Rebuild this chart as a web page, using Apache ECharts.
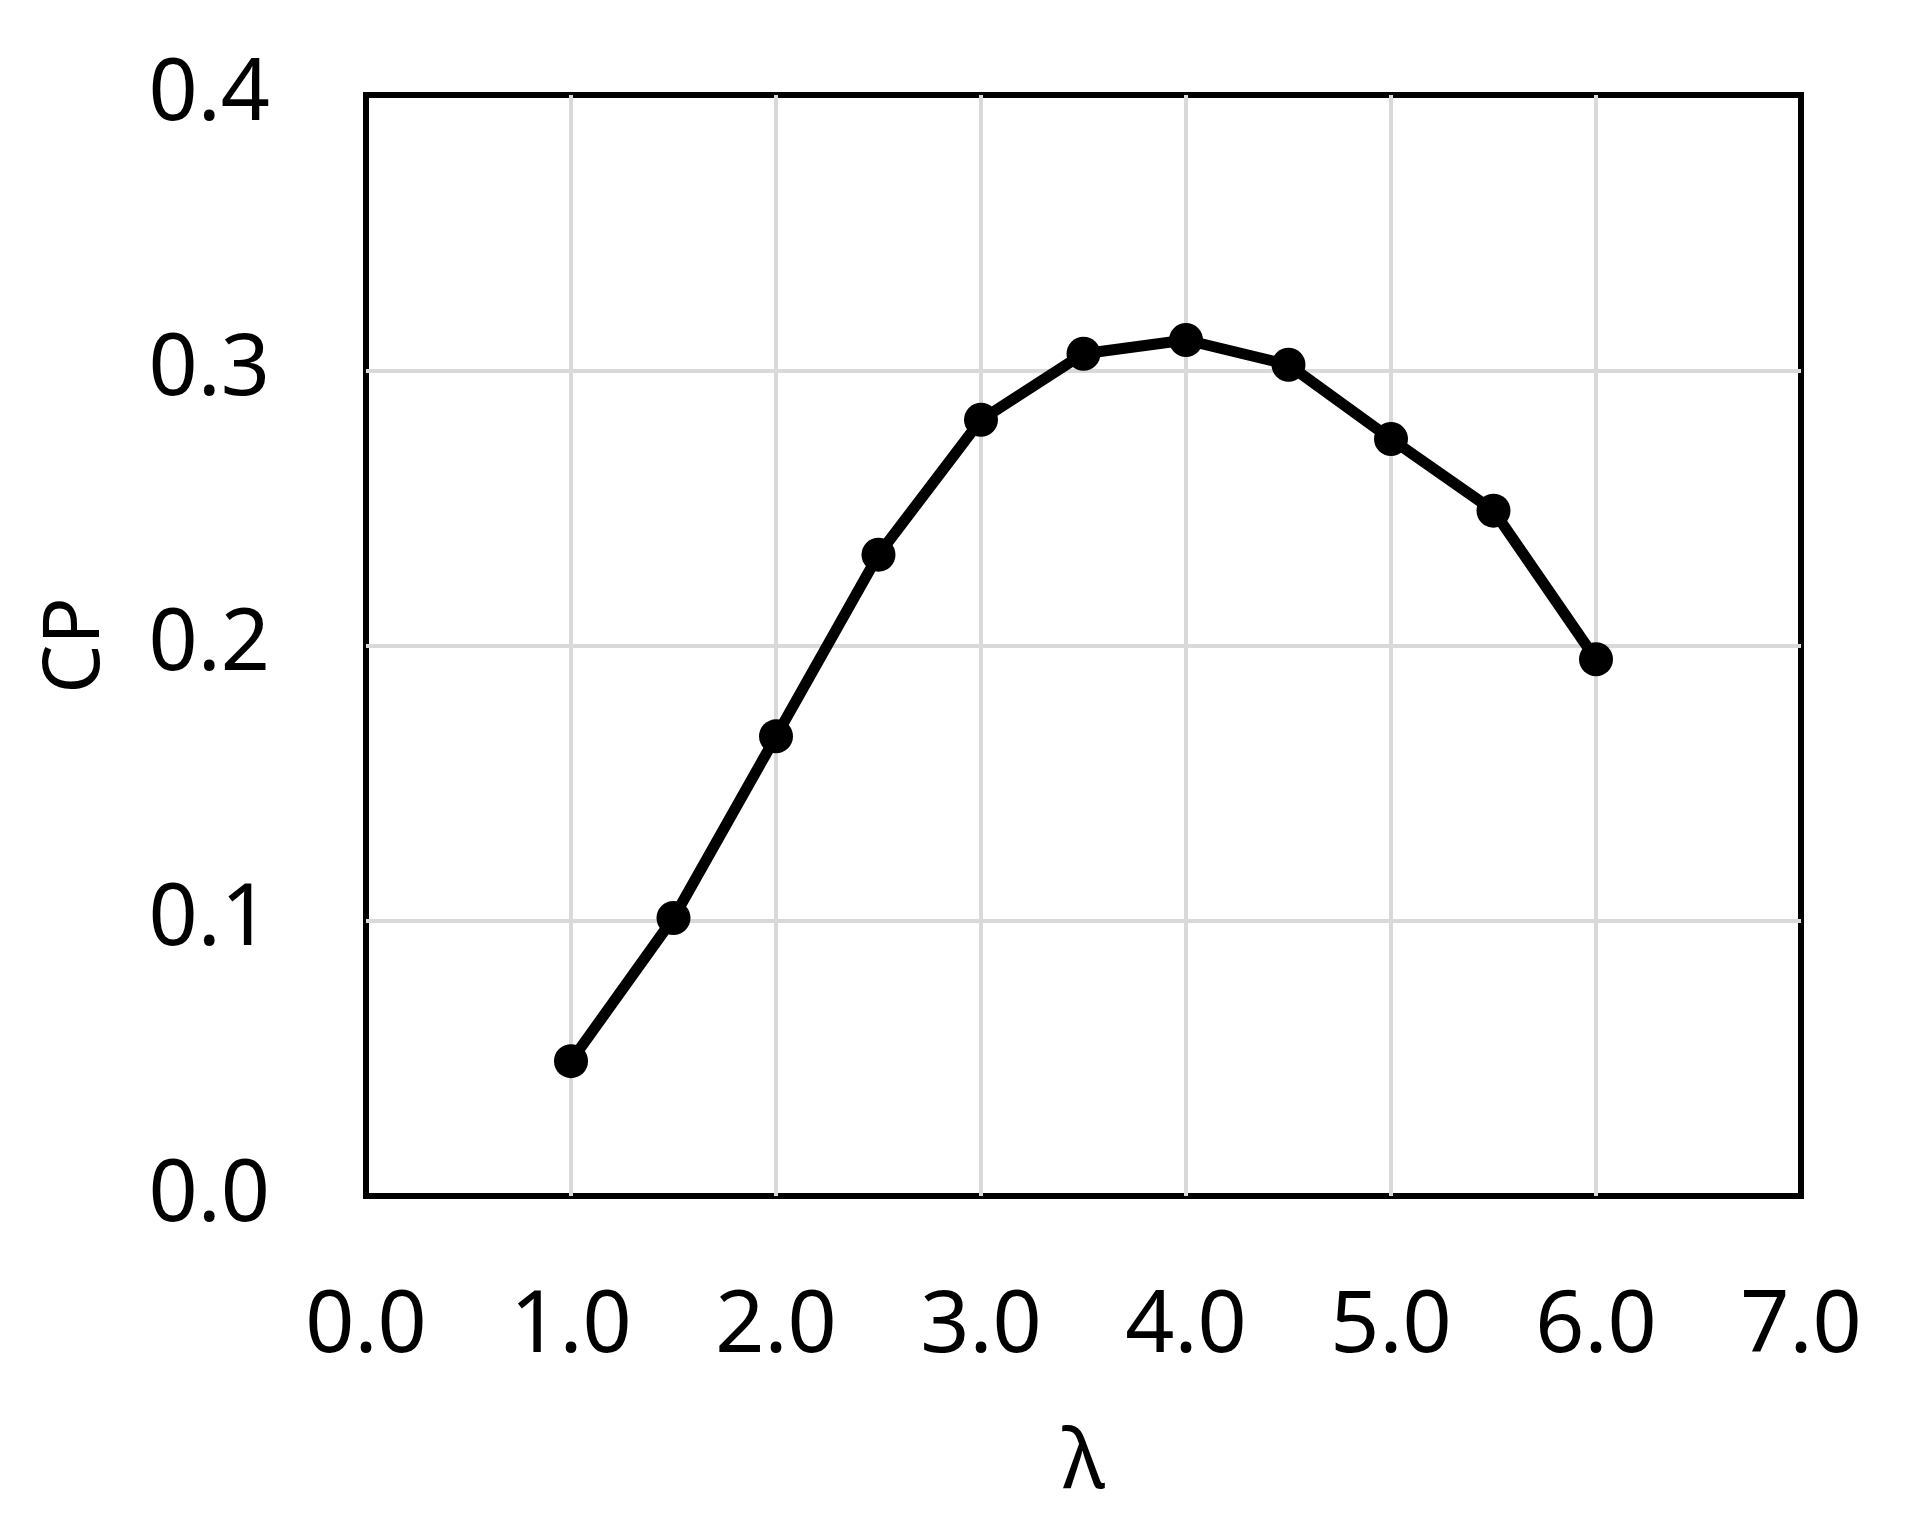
<!DOCTYPE html>
<html>
<head>
<meta charset="utf-8">
<script src="https://cdn.jsdelivr.net/npm/echarts@6/dist/echarts.min.js"></script>
<style>
html,body{margin:0;padding:0;background:#fff;}
#chart{width:1907px;height:1533px;}
</style>
</head>
<body>
<div id="chart"></div>
<script>
const lambdaValues = [1.0, 1.5, 2.0, 2.5, 3.0, 3.5, 4.0, 4.5, 5.0, 5.5, 6.0];
const cpValues = [0.049, 0.101, 0.167, 0.233, 0.282, 0.306, 0.311, 0.302, 0.275, 0.249, 0.195];
const xAxisName = 'λ';
const yAxisName = 'CP';

const chart = echarts.init(document.getElementById('chart'), null, {renderer: 'canvas'});
const font = '"Noto Sans", "Open Sans", sans-serif';
chart.setOption({
  animation: false,
  backgroundColor: '#fff',
  grid: {
    left: 366, right: 106, top: 95, bottom: 337,
    show: true, borderColor: '#000', borderWidth: 6, backgroundColor: 'transparent'
  },
  xAxis: {
    type: 'value', min: 0, max: 7, interval: 1,
    name: xAxisName, nameLocation: 'middle', nameGap: 228,
    nameTextStyle: {fontFamily: font, fontSize: 82, color: '#000'},
    axisLine: {show: false}, axisTick: {show: false},
    axisLabel: {fontFamily: font, fontSize: 86, color: '#000', margin: 88,
      formatter: v => v.toFixed(1)},
    splitLine: {show: true, showMinLine: false, showMaxLine: false,
      lineStyle: {color: '#d9d9d9', width: 4}}
  },
  yAxis: {
    type: 'value', min: 0, max: 0.4, interval: 0.1,
    name: yAxisName, nameLocation: 'middle', nameGap: 250,
    nameTextStyle: {fontFamily: font, fontSize: 78, color: '#000'},
    axisLine: {show: false}, axisTick: {show: false},
    axisLabel: {fontFamily: font, fontSize: 86, color: '#000', margin: 96,
      formatter: v => v.toFixed(1)},
    splitLine: {show: true, showMinLine: false, showMaxLine: false,
      lineStyle: {color: '#d9d9d9', width: 4}}
  },
  series: [{
    type: 'line',
    data: lambdaValues.map((x, i) => [x, cpValues[i]]),
    symbol: 'circle', symbolSize: 34,
    itemStyle: {color: '#000'},
    lineStyle: {color: '#000', width: 11}
  }]
});
</script>
</body>
</html>
